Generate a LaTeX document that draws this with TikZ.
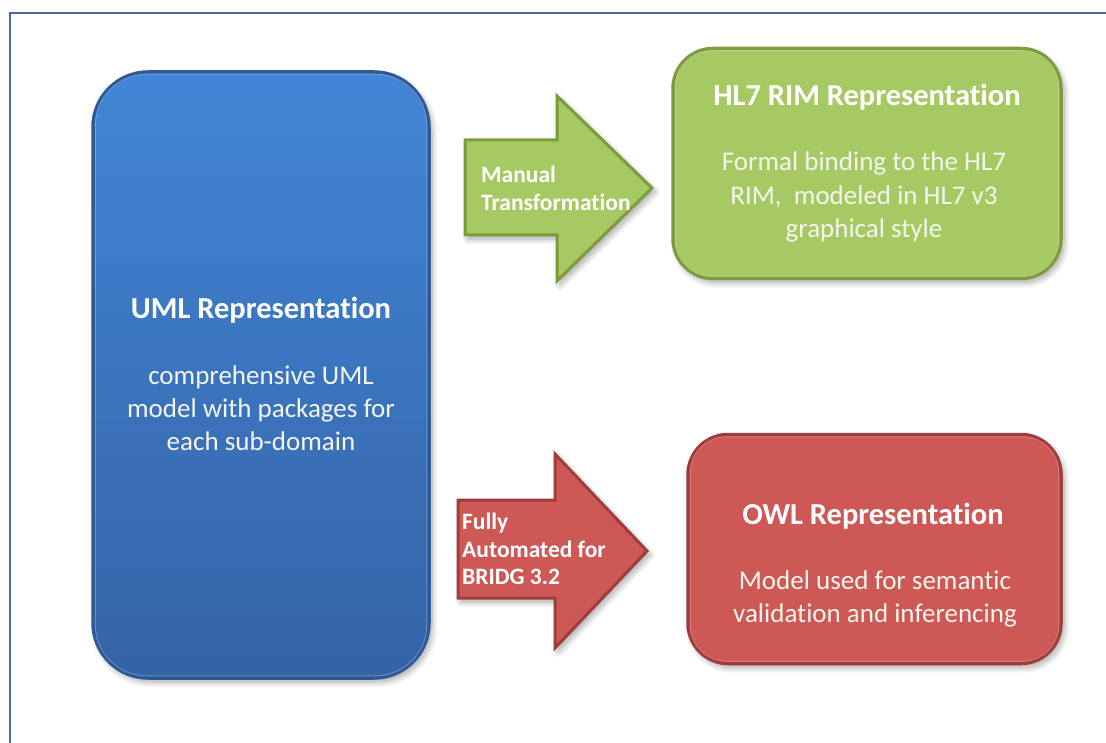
\documentclass[tikz,border=0pt]{standalone}
\usepackage{fontspec}
\setmainfont{Carlito}[Ligatures=NoCommon]
\usetikzlibrary{shadows.blur}
\definecolor{frameblue}{HTML}{4A6C9B}
\definecolor{umltop}{HTML}{4285D6}
\definecolor{umlbot}{HTML}{3463A6}
\definecolor{umlrim}{HTML}{2D5A96}
\definecolor{greenfill}{HTML}{A6C964}
\definecolor{greenrim}{HTML}{7C9C3C}
\definecolor{redfill}{HTML}{CD5856}
\definecolor{redrim}{HTML}{A03D3B}
\definecolor{bodytext}{HTML}{F4F6EE}
\tikzset{
  shad/.style={blur shadow={shadow xshift=3pt, shadow yshift=-4pt, shadow blur steps=10, shadow opacity=35, shadow blur radius=6pt}},
  box/.style={rectangle, inner sep=0pt, line width=3.5pt, shad},
  boxtext/.style={text=white, align=center, inner sep=0pt},
  blockarrow/.style={line width=3pt, line join=miter, shad},
  arrowtext/.style={text=white, align=left, anchor=west, inner sep=0pt, font=\fontsize{23.5}{27.5}\selectfont\bfseries}
}
\begin{document}
\begin{tikzpicture}[x=1pt,y=-1pt]
\useasboundingbox (0,0) rectangle (1106,743);
% frame
\draw[frameblue, line width=2.5pt] (10,745) -- (10,13) -- (1108,13);

% boxes
\node[box, rounded corners=55pt, minimum width=336pt, minimum height=606pt, top color=umltop, bottom color=umlbot, draw=umlrim] (uml) at (261,375) {};
\node[box, rounded corners=40pt, minimum width=388pt, minimum height=230pt, fill=greenfill, draw=greenrim] (hl7) at (867,163.5) {};
\node[box, rounded corners=40pt, minimum width=373pt, minimum height=229pt, fill=redfill, draw=redrim] (owl) at (874.5,549) {};

% inner highlight rims
\draw[white, opacity=0.25, line width=1pt, rounded corners=51pt] ([xshift=4pt,yshift=-4pt]uml.north west) rectangle ([xshift=-4pt,yshift=4pt]uml.south east);
\draw[white, opacity=0.25, line width=1pt, rounded corners=36pt] ([xshift=4pt,yshift=-4pt]hl7.north west) rectangle ([xshift=-4pt,yshift=4pt]hl7.south east);
\draw[white, opacity=0.25, line width=1pt, rounded corners=36pt] ([xshift=4pt,yshift=-4pt]owl.north west) rectangle ([xshift=-4pt,yshift=4pt]owl.south east);

% texts
\node[boxtext, font=\fontsize{30.5}{33}\selectfont\bfseries] (umltitle) at (261,310) {UML Representation};
\node[boxtext, text=bodytext, font=\fontsize{27}{33}\selectfont] (umlbody) at (261,408) {comprehensive UML\\model with packages for\\each sub-domain};

\node[boxtext, font=\fontsize{30.5}{33}\selectfont\bfseries] (hl7title) at (867,97) {HL7 RIM Representation};
\node[boxtext, text=bodytext, font=\fontsize{27}{33.5}\selectfont] (hl7body) at (864,197) {Formal binding to the HL7\\RIM,\ \ modeled in HL7 v3\\graphical style};

\node[boxtext, font=\fontsize{30.5}{33}\selectfont\bfseries] (owltitle) at (873,516) {OWL Representation};
\node[boxtext, text=bodytext, font=\fontsize{27}{33}\selectfont] (owlbody) at (875,598.5) {Model used for semantic\\validation and inferencing};

% block arrows
\coordinate (g1) at (465,140);
\coordinate (gtip) at (652,188);
\draw[blockarrow, fill=greenfill, draw=greenrim] (g1) -- (557,140) -- (557,96) -- (gtip) -- (557,281) -- (557,235) -- (465,235) -- cycle;
\node[arrowtext] (manual) at (481,188.5) {Manual\\Transformation};

\coordinate (r1) at (458,500);
\coordinate (rtip) at (647,551);
\draw[blockarrow, fill=redfill, draw=redrim] (r1) -- (555,500) -- (555,454) -- (rtip) -- (555,648) -- (555,598) -- (458,598) -- cycle;
\node[arrowtext] (auto) at (462,549) {Fully\\Automated for\\BRIDG 3.2};
\end{tikzpicture}
\end{document}
